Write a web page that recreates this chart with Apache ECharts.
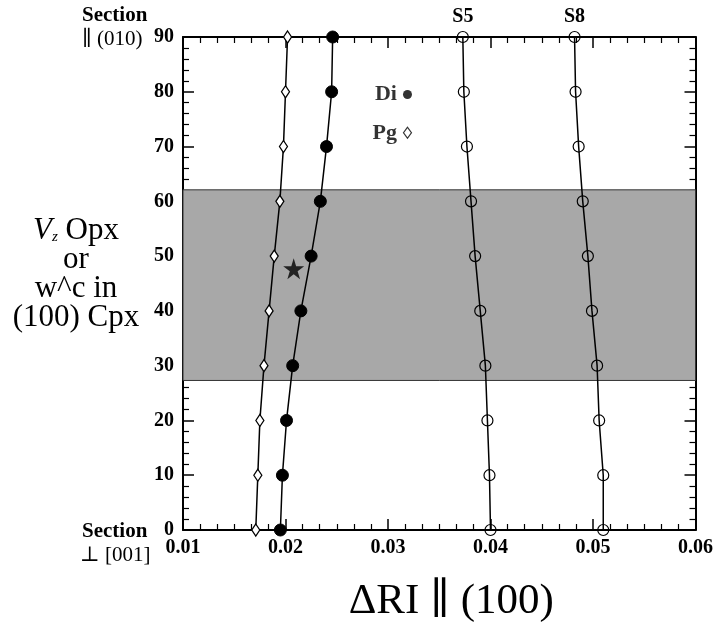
<!DOCTYPE html>
<html>
<head>
<meta charset="utf-8">
<script src="https://cdn.jsdelivr.net/npm/echarts@6/dist/echarts.min.js"></script>
<title>RI chart</title>
<style>
    body { margin: 0; background: #fff; }
    #main { width: 716px; height: 628px; }
</style>
</head>
<body>
<div id="main"></div>
<script>
// orientation (y) and the birefringence values
var yVals = [0, 10, 20, 30, 40, 50, 60, 70, 80, 90];
var pgX = [0.0171, 0.0173, 0.0175, 0.0179, 0.0184, 0.0189, 0.01945, 0.0198, 0.0200, 0.0202];
var diX = [0.0195, 0.0197, 0.0201, 0.0207, 0.0215, 0.0225, 0.0234, 0.0240, 0.0245, 0.0246];
var s5X = [0.0400, 0.0399, 0.0397, 0.0395, 0.0390, 0.0385, 0.0381, 0.0377, 0.0374, 0.0373];
var s8X = [0.0510, 0.0510, 0.0506, 0.0504, 0.0499, 0.0495, 0.0490, 0.0486, 0.0483, 0.0482];
var starPt = [0.0208, 47.7];
var band = [27.3, 62.1];

var serif = '"Liberation Serif", "DejaVu Serif", serif';

function pairs(xs, name) {
    return xs.map(function (x, i) {
        var item = { value: [x, yVals[i]] };
        if (name && yVals[i] === 90) {
            item.label = {
                show: true, position: 'top', distance: 4, formatter: name,
                fontFamily: serif, fontWeight: 'bold', fontSize: 20, color: '#000'
            };
        }
        return item;
    });
}

var chart = echarts.init(document.getElementById('main'));

var axisCommon = {
    axisLine: { show: true, onZero: false, lineStyle: { color: '#000', width: 2 } },
    axisTick: { show: true, inside: true, length: 11, lineStyle: { color: '#000', width: 1.5 } },
    splitLine: { show: false },
    minorSplitLine: { show: false }
};

function ax(extra, minorSplit) {
    var a = Object.assign({}, JSON.parse(JSON.stringify(axisCommon)), extra);
    a.minorTick = { show: true, splitNumber: minorSplit, length: 6, lineStyle: { color: '#000', width: 1.2 } };
    return a;
}

var lineStyle = { color: '#000', width: 1.5 };

var option = {
    animation: false,
    grid: { left: 183, right: 19, top: 37, bottom: 85 },
    xAxis: [
        ax({
            type: 'value', min: 0.01, max: 0.06, interval: 0.01, position: 'bottom',
            axisLabel: {
                formatter: function (v) { return v.toFixed(2); },
                fontFamily: serif, fontWeight: 'bold', fontSize: 20, color: '#000', margin: 8
            },
            name: 'ΔRI ∥ (100)', nameLocation: 'middle', nameGap: 50,
            nameTextStyle: { fontFamily: serif, fontSize: 43, color: '#000', padding: [0, 0, 0, 24] }
        }, 6),
        ax({
            type: 'value', min: 0.01, max: 0.06, interval: 0.01, position: 'top',
            axisLabel: { show: false }
        }, 6)
    ],
    yAxis: [
        ax({
            type: 'value', min: 0, max: 90, interval: 10, position: 'left',
            axisLabel: {
                fontFamily: serif, fontWeight: 'bold', fontSize: 20, color: '#000', margin: 9
            }
        }, 5),
        ax({
            type: 'value', min: 0, max: 90, interval: 10, position: 'right',
            axisLabel: { show: false }
        }, 5)
    ],
    series: [
        {
            name: 'Pg', type: 'line', data: pairs(pgX), clip: false, z: 5,
            symbol: 'diamond', symbolSize: [8, 12],
            itemStyle: { color: '#fff', borderColor: '#000', borderWidth: 1.3 },
            lineStyle: lineStyle,
            markArea: {
                silent: true,
                itemStyle: { color: '#a8a8a8', borderColor: '#333', borderWidth: 1 },
                data: [[{ yAxis: band[0] }, { yAxis: band[1] }]]
            }
        },
        {
            name: 'Di', type: 'line', data: pairs(diX), clip: false, z: 5,
            symbol: 'circle', symbolSize: 12,
            itemStyle: { color: '#000', borderColor: '#000' },
            lineStyle: lineStyle
        },
        {
            name: 'S5', type: 'line', data: pairs(s5X, 'S5'), clip: false, z: 5,
            symbol: 'circle', symbolSize: 11,
            itemStyle: { color: 'rgba(0,0,0,0)', borderColor: '#000', borderWidth: 1.2 },
            lineStyle: lineStyle
        },
        {
            name: 'S8', type: 'line', data: pairs(s8X, 'S8'), clip: false, z: 5,
            symbol: 'circle', symbolSize: 11,
            itemStyle: { color: 'rgba(0,0,0,0)', borderColor: '#000', borderWidth: 1.2 },
            lineStyle: lineStyle
        },
        {
            name: 'star', type: 'scatter', data: [starPt], z: 6,
            symbol: 'path://M50,0 L61,35 L98,35 L68,57 L79,91 L50,70 L21,91 L32,57 L2,35 L39,35 Z',
            symbolSize: 21, itemStyle: { color: '#000' }
        },
        {
            name: 'keyDi', type: 'scatter', data: [[0.0319, 79.5]], z: 6,
            symbol: 'circle', symbolSize: 9, itemStyle: { color: '#000' },
            label: {
                show: true, position: 'left', distance: 6, formatter: 'Di',
                fontFamily: serif, fontWeight: 'bold', fontSize: 22, color: '#000'
            }
        },
        {
            name: 'keyPg', type: 'scatter', data: [[0.0319, 72.5]], z: 6,
            symbol: 'diamond', symbolSize: [8, 11],
            itemStyle: { color: '#fff', borderColor: '#000', borderWidth: 1.2 },
            label: {
                show: true, position: 'left', distance: 6, formatter: 'Pg',
                fontFamily: serif, fontWeight: 'bold', fontSize: 22, color: '#000'
            }
        }
    ],
    graphic: [
        { type: 'text', left: 82, top: 5, style: { text: 'Section', font: 'bold 21px ' + serif, fill: '#000' } },
        { type: 'text', left: 82, top: 29, style: { text: '∥ (010)', font: '21px ' + serif, fill: '#000' } },
        { type: 'text', left: 82, top: 521, style: { text: 'Section', font: 'bold 21px ' + serif, fill: '#000' } },
        { type: 'text', left: 80, top: 545, style: { text: '⊥ [001]', font: '21px ' + serif, fill: '#000' } },
        {
            type: 'text', x: 76, y: 216,
            style: {
                text: '{i|V}{s|z} Opx\nor\nw^c in\n(100) Cpx',
                font: '31px ' + serif, fill: '#000', align: 'center', lineHeight: 29,
                rich: {
                    i: { fontFamily: serif, fontStyle: 'italic', fontSize: 31 },
                    s: { fontFamily: serif, fontStyle: 'italic', fontSize: 15, verticalAlign: 'bottom', padding: [12, 0, 0, 0] }
                }
            }
        }
    ]
};

chart.setOption(option);
</script>
</body>
</html>
